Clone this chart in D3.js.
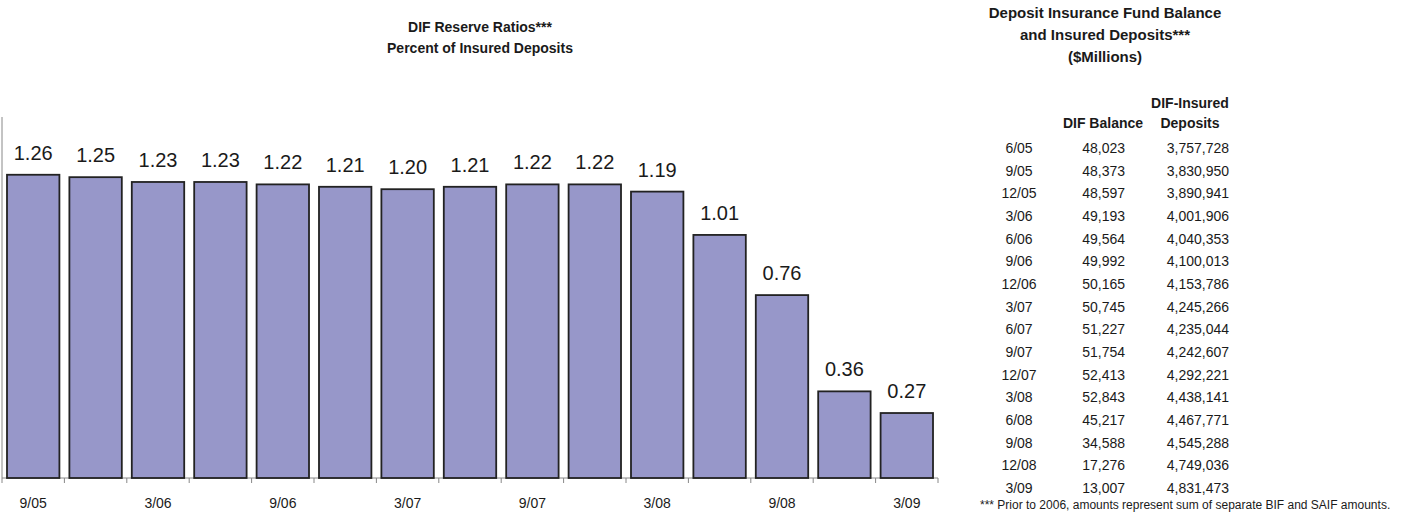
<!DOCTYPE html>
<html>
<head>
<meta charset="utf-8">
<script src="https://cdn.jsdelivr.net/npm/d3@7"></script>
<style>
  body { margin: 0; background: #fff; }
  svg { display: block; font-family: "Liberation Sans", Arial, sans-serif; }
</style>
</head>
<body>
<svg id="chart" width="1405" height="512"></svg>
<script>
// bar chart data
const quarters = ['9/05', '12/05', '3/06', '6/06', '9/06', '12/06', '3/07', '6/07',
  '9/07', '12/07', '3/08', '6/08', '9/08', '12/08', '3/09'];
const reserveRatios = [1.26, 1.25, 1.23, 1.23, 1.22, 1.21, 1.20, 1.21, 1.22, 1.22, 1.19, 1.01, 0.76, 0.36, 0.27];
const tickLabels = ['9/05', '3/06', '9/06', '3/07', '9/07', '3/08', '9/08', '3/09'];

// table data
const tableDates = ['6/05', '9/05', '12/05', '3/06', '6/06', '9/06', '12/06', '3/07',
  '6/07', '9/07', '12/07', '3/08', '6/08', '9/08', '12/08', '3/09'];
const difBalance = [48023, 48373, 48597, 49193, 49564, 49992, 50165, 50745,
  51227, 51754, 52413, 52843, 45217, 34588, 17276, 13007];
const insuredDeposits = [3757728, 3830950, 3890941, 4001906, 4040353, 4100013, 4153786, 4245266,
  4235044, 4242607, 4292221, 4438141, 4467771, 4545288, 4749036, 4831473];

const svg = d3.select('#chart');
const ink = '#1a1a1a';

// ---- left: bar chart ----
const plotLeft = 2, plotRight = 938, plotTop = 117, base = 478;

const x = d3.scaleBand()
  .domain(quarters)
  .range([plotLeft, plotRight])
  .paddingInner(0.16)
  .paddingOuter(0.08);
const y = d3.scaleLinear()
  .domain([0, 1.5])
  .range([base, plotTop]);

svg.append('text')
  .attr('x', 480).attr('y', 32)
  .attr('text-anchor', 'middle')
  .attr('font-size', 14).attr('font-weight', 'bold').attr('fill', ink)
  .text('DIF Reserve Ratios***');
svg.append('text')
  .attr('x', 480).attr('y', 53)
  .attr('text-anchor', 'middle')
  .attr('font-size', 14).attr('font-weight', 'bold').attr('fill', ink)
  .text('Percent of Insured Deposits');

// axes lines
svg.append('line')
  .attr('x1', plotLeft).attr('x2', plotLeft)
  .attr('y1', plotTop).attr('y2', base)
  .attr('stroke', '#888').attr('stroke-width', 1);

const gap = x.step() - x.bandwidth();
const bounds = quarters.map(q => x(q) - gap / 2)
  .concat([x(quarters[quarters.length - 1]) + x.bandwidth() + gap / 2]);

svg.append('line')
  .attr('x1', plotLeft).attr('x2', bounds[bounds.length - 1])
  .attr('y1', base).attr('y2', base)
  .attr('stroke', '#888').attr('stroke-width', 1);

svg.selectAll('.tick-mark')
  .data(bounds)
  .enter().append('line')
  .attr('class', 'tick-mark')
  .attr('x1', d => d).attr('x2', d => d)
  .attr('y1', base).attr('y2', base + 5)
  .attr('stroke', '#888').attr('stroke-width', 1);

svg.selectAll('.bar')
  .data(reserveRatios)
  .enter().append('rect')
  .attr('class', 'bar')
  .attr('x', (d, i) => x(quarters[i]))
  .attr('y', d => y(d))
  .attr('width', x.bandwidth())
  .attr('height', d => base - y(d))
  .attr('fill', '#9797c9')
  .attr('stroke', '#222')
  .attr('stroke-width', 1.8);

svg.selectAll('.val')
  .data(reserveRatios)
  .enter().append('text')
  .attr('class', 'val')
  .attr('x', (d, i) => x(quarters[i]) + x.bandwidth() / 2)
  .attr('y', d => y(d) - 15)
  .attr('text-anchor', 'middle')
  .attr('font-size', 20).attr('fill', ink)
  .text(d => d.toFixed(2));

svg.selectAll('.xlab')
  .data(tickLabels)
  .enter().append('text')
  .attr('class', 'xlab')
  .attr('x', d => x(d) + x.bandwidth() / 2)
  .attr('y', 508)
  .attr('text-anchor', 'middle')
  .attr('font-size', 14).attr('fill', ink)
  .text(d => d);

// ---- right: table ----
const tTitle = ['Deposit Insurance Fund Balance', 'and Insured Deposits***', '($Millions)'];
svg.selectAll('.ttl')
  .data(tTitle)
  .enter().append('text')
  .attr('class', 'ttl')
  .attr('x', 1105)
  .attr('y', (d, i) => 18 + i * 22)
  .attr('text-anchor', 'middle')
  .attr('font-size', 15).attr('font-weight', 'bold').attr('fill', ink)
  .text(d => d);

const hdr = svg.append('g').attr('font-size', 14).attr('font-weight', 'bold').attr('fill', ink);
hdr.append('text').attr('x', 1103).attr('y', 128).attr('text-anchor', 'middle').text('DIF Balance');
hdr.append('text').attr('x', 1190).attr('y', 108).attr('text-anchor', 'middle').text('DIF-Insured');
hdr.append('text').attr('x', 1190).attr('y', 128).attr('text-anchor', 'middle').text('Deposits');

const fmt = d3.format(',');
const rowY = i => 153 + i * 22.67;
const rows = svg.append('g').attr('font-size', 14).attr('fill', ink);
rows.selectAll('.dt')
  .data(tableDates)
  .enter().append('text')
  .attr('x', 1019).attr('y', (d, i) => rowY(i))
  .attr('text-anchor', 'middle')
  .text(d => d);
rows.selectAll('.bal')
  .data(difBalance)
  .enter().append('text')
  .attr('x', 1125).attr('y', (d, i) => rowY(i))
  .attr('text-anchor', 'end')
  .text(d => fmt(d));
rows.selectAll('.dep')
  .data(insuredDeposits)
  .enter().append('text')
  .attr('x', 1229).attr('y', (d, i) => rowY(i))
  .attr('text-anchor', 'end')
  .text(d => fmt(d));

// footnote, kept just inside the bottom edge
svg.append('text')
  .attr('x', 980).attr('y', 509)
  .attr('font-size', 12).attr('fill', ink)
  .text('*** Prior to 2006, amounts represent sum of separate BIF and SAIF amounts.');
</script>
</body>
</html>
